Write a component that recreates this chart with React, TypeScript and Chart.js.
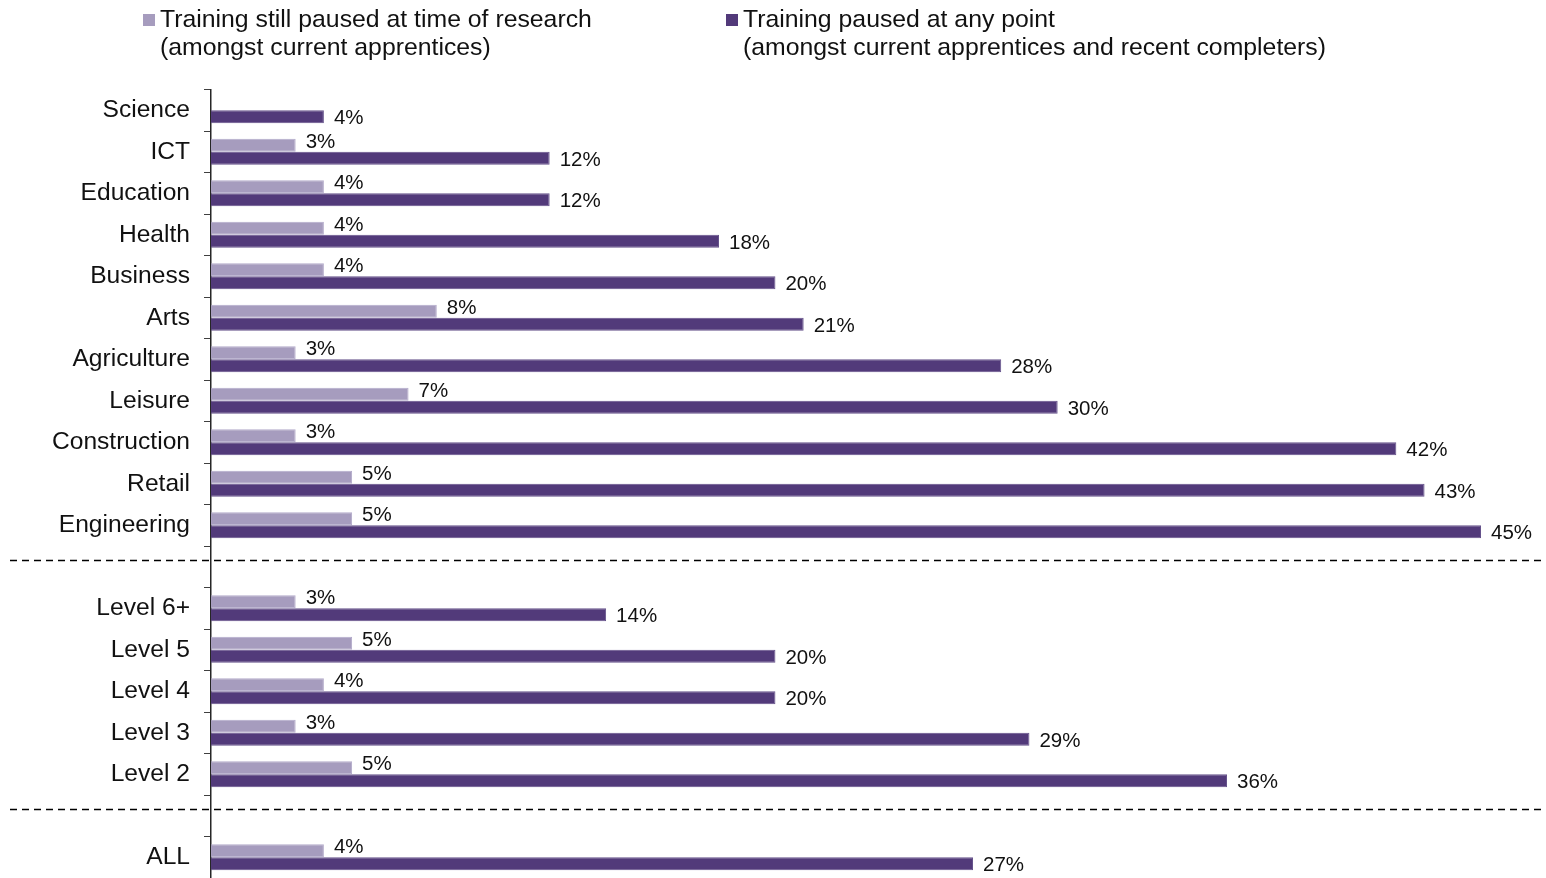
import React, { useEffect, useRef } from 'react';
import { Chart, registerables } from 'chart.js';

Chart.register(...registerables);

const categories = ['Science', 'ICT', 'Education', 'Health', 'Business', 'Arts', 'Agriculture', 'Leisure', 'Construction', 'Retail', 'Engineering', '', 'Level 6+', 'Level 5', 'Level 4', 'Level 3', 'Level 2', '', 'ALL'];
const stillPaused = [null, 3, 4, 4, 4, 8, 3, 7, 3, 5, 5, null, 3, 5, 4, 3, 5, null, 4];
const pausedAnyPoint = [4, 12, 12, 18, 20, 21, 28, 30, 42, 43, 45, null, 14, 20, 20, 29, 36, null, 27];
const legendLines = [
  ['Training still paused at time of research', '(amongst current apprentices)'],
  ['Training paused at any point', '(amongst current apprentices and recent completers)'],
];
const seriesColors = ['#A69CBE', '#523A7A'];
const xMax = 45;

const FONT = '"Liberation Sans", Arial, sans-serif';

const overlayPlugin = {
  id: 'overlay',
  afterDraw(chart: any) {
    const ctx = chart.ctx as CanvasRenderingContext2D;
    ctx.save();
    // data labels
    ctx.font = `20.5px ${FONT}`;
    ctx.fillStyle = '#111';
    ctx.textBaseline = 'middle';
    ctx.textAlign = 'left';
    chart.data.datasets.forEach((ds: any, di: number) => {
      const meta = chart.getDatasetMeta(di);
      meta.data.forEach((bar: any, i: number) => {
        const v = ds.data[i];
        if (v == null) return;
        const dy = di === 0 ? -3 : 2;
        ctx.fillText(`${v}%`, bar.x + 10, bar.y + dy);
      });
    });
    // dashed separators
    const ys = chart.scales.y;
    ctx.setLineDash([7, 5]);
    ctx.lineWidth = 1.5;
    ctx.strokeStyle = '#000';
    categories.forEach((c, i) => {
      if (c === '') {
        const y = Math.round(ys.getPixelForValue(i)) - 6.5;
        ctx.beginPath();
        ctx.moveTo(10, y);
        ctx.lineTo(chart.width, y);
        ctx.stroke();
      }
    });
    ctx.setLineDash([]);
    // legend
    const legendX = [143, 726];
    ctx.font = `24.8px ${FONT}`;
    legendLines.forEach((lines, k) => {
      ctx.fillStyle = seriesColors[k];
      ctx.fillRect(legendX[k], 14, 12, 12);
      ctx.fillStyle = '#111';
      lines.forEach((t, j) => {
        ctx.fillText(t, legendX[k] + 17, 20 + j * 28);
      });
    });
    ctx.restore();
  },
};

export default function App() {
  const ref = useRef<HTMLCanvasElement | null>(null);
  useEffect(() => {
    if (!ref.current) return;
    const chart = new Chart(ref.current, {
      type: 'bar',
      data: {
        labels: categories,
        datasets: [
          {
            label: legendLines[0].join(' '),
            data: stillPaused as any,
            backgroundColor: seriesColors[0],
            borderColor: '#B3AACA',
            borderWidth: 1,
            categoryPercentage: 0.63,
            barPercentage: 1,
          },
          {
            label: legendLines[1].join(' '),
            data: pausedAnyPoint as any,
            backgroundColor: seriesColors[1],
            borderColor: '#65528B',
            borderWidth: 1,
            categoryPercentage: 0.63,
            barPercentage: 1,
          },
        ],
      },
      options: {
        indexAxis: 'y',
        animation: false,
        responsive: true,
        maintainAspectRatio: false,
        layout: { padding: { top: 89.5, right: 65, bottom: -1.5, left: 0 } },
        plugins: { legend: { display: false }, tooltip: { enabled: false } },
        scales: {
          x: { display: false, min: 0, max: xMax },
          y: {
            type: 'category',
            offset: true,
            grid: { display: true, offset: true, drawOnChartArea: false, drawTicks: true, tickLength: 7, color: '#404040', lineWidth: 1 },
            border: { display: true, color: '#262626', width: 1.5 },
            ticks: { font: { size: 24.6, family: FONT }, color: '#111', padding: 14, autoSkip: false },
            afterFit(scale: any) {
              scale.width = 211;
              scale.paddingTop = 0;
              scale.paddingBottom = 0;
            },
          },
        },
      },
      plugins: [overlayPlugin],
    });
    return () => chart.destroy();
  }, []);
  return (
    <div style={{ position: 'fixed', left: 0, top: 0, width: 1546, height: 878, background: '#fff', overflow: 'hidden' }}>
      <canvas ref={ref} />
    </div>
  );
}
